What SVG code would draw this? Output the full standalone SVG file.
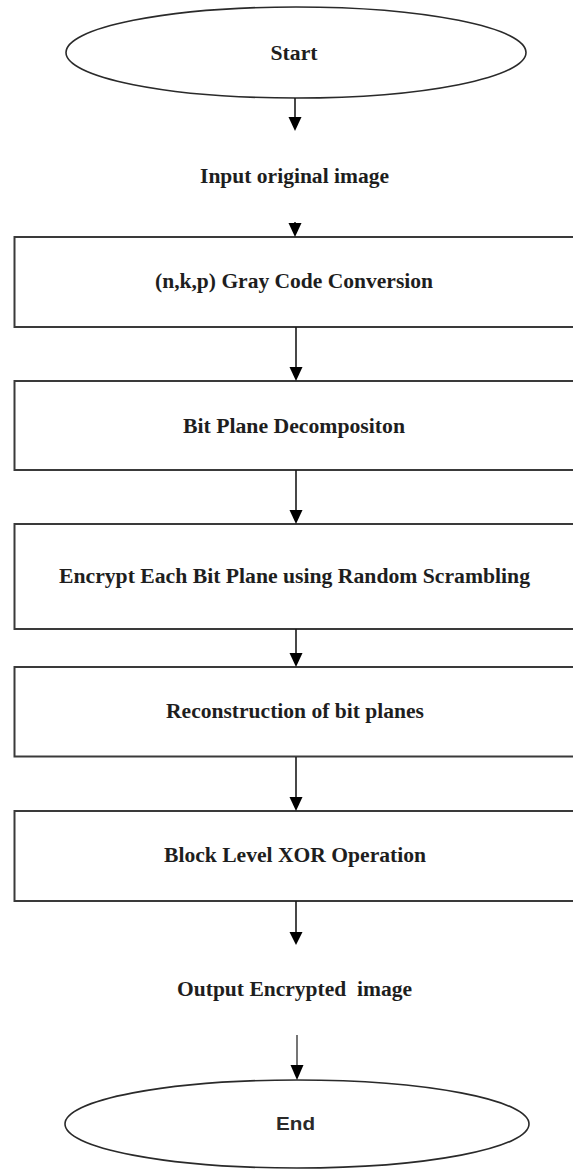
<svg xmlns="http://www.w3.org/2000/svg" width="573" height="1169" viewBox="0 0 573 1169">
<style>
.bg{fill:#ffffff}
.box{fill:#ffffff;stroke:#3a3a3a;stroke-width:2}
.term{fill:#ffffff;stroke:#2a2a2a;stroke-width:1.6}
.lbl{font-family:"Liberation Serif","Times New Roman",serif;font-weight:bold;font-size:20px;fill:#1e1e1e;text-anchor:middle;white-space:pre}
.sans{font-family:"Liberation Sans",Arial,sans-serif;font-weight:bold;font-size:18px;fill:#2a2a2a;text-anchor:middle}
.ln{stroke:#1a1a1a;stroke-width:1.6;fill:none}
.hd{fill:#000000}
</style>
<rect class="bg" x="0" y="0" width="573" height="1169"/>
<g id="start">
<ellipse class="term" cx="296" cy="52.5" rx="230" ry="45.5"/>
<text class="lbl" x="294" y="60" textLength="47" lengthAdjust="spacingAndGlyphs">Start</text>
</g>
<g id="input">
<text class="lbl" x="294.5" y="183" textLength="189" lengthAdjust="spacingAndGlyphs">Input original image</text>
</g>
<g id="gray">
<rect class="box" x="14.5" y="237" width="575" height="90"/>
<text class="lbl" x="294" y="288" textLength="278" lengthAdjust="spacingAndGlyphs">(n,k,p) Gray Code Conversion</text>
</g>
<g id="bitplane">
<rect class="box" x="14.5" y="381" width="575" height="89"/>
<text class="lbl" x="294" y="433" textLength="222" lengthAdjust="spacingAndGlyphs">Bit Plane Decompositon</text>
</g>
<g id="encrypt">
<rect class="box" x="14.5" y="524" width="575" height="105"/>
<text class="lbl" x="294.5" y="583" textLength="471" lengthAdjust="spacingAndGlyphs">Encrypt Each Bit Plane using Random Scrambling</text>
</g>
<g id="reconstruct">
<rect class="box" x="14.5" y="667" width="575" height="89.5"/>
<text class="lbl" x="295" y="718" textLength="258" lengthAdjust="spacingAndGlyphs">Reconstruction of bit planes</text>
</g>
<g id="xor">
<rect class="box" x="14.5" y="811" width="575" height="90"/>
<text class="lbl" x="295" y="862" textLength="262" lengthAdjust="spacingAndGlyphs">Block Level XOR Operation</text>
</g>
<g id="output">
<text class="lbl" x="294.5" y="996" textLength="235" lengthAdjust="spacingAndGlyphs">Output Encrypted  image</text>
</g>
<g id="end">
<ellipse class="term" cx="297" cy="1124" rx="232" ry="44"/>
<text class="sans" x="295.5" y="1130" textLength="39" lengthAdjust="spacingAndGlyphs">End</text>
</g>
<g id="connectors">
<line class="ln" x1="295" y1="98" x2="295" y2="118"/>
<polygon class="hd" points="288.5,117 301.5,117 295,131"/>
<line class="ln" x1="295" y1="222" x2="295" y2="224"/>
<polygon class="hd" points="288.5,223 301.5,223 295,237"/>
<line class="ln" x1="296" y1="327" x2="296" y2="368"/>
<polygon class="hd" points="289.5,367 302.5,367 296,381"/>
<line class="ln" x1="296" y1="470" x2="296" y2="511"/>
<polygon class="hd" points="289.5,510 302.5,510 296,524"/>
<line class="ln" x1="296" y1="629" x2="296" y2="654"/>
<polygon class="hd" points="289.5,653 302.5,653 296,667"/>
<line class="ln" x1="296" y1="757" x2="296" y2="798"/>
<polygon class="hd" points="289.5,797 302.5,797 296,811"/>
<line class="ln" x1="296" y1="901" x2="296" y2="933"/>
<polygon class="hd" points="289.5,932 302.5,932 296,945"/>
<line class="ln" x1="297" y1="1035" x2="297" y2="1066" style="stroke-width:1.2"/>
<polygon class="hd" points="290.5,1065 303.5,1065 297,1080"/>
</g>
</svg>
